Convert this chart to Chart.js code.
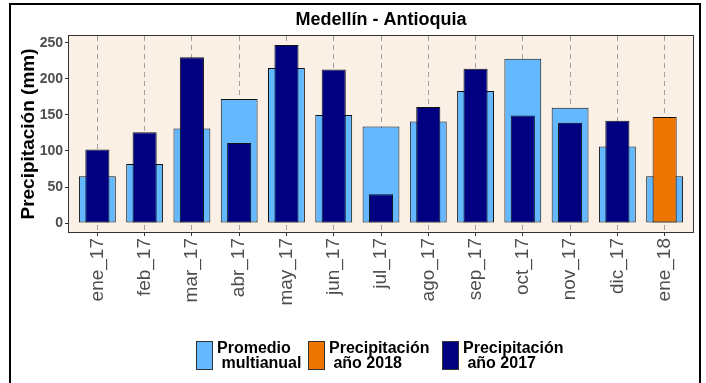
<!DOCTYPE html>
<html>
<head>
<meta charset="utf-8">
<script src="https://cdn.jsdelivr.net/npm/chart.js@4.4.1/dist/chart.umd.min.js"></script>
<style>
  html, body { margin: 0; padding: 0; background: #ffffff; }
  canvas { display: block; }
</style>
</head>
<body>
<canvas id="chart" width="706" height="383"></canvas>
<script>
// Monthly rainfall, Medellín (mm)
const months = ['ene_17', 'feb_17', 'mar_17', 'abr_17', 'may_17', 'jun_17', 'jul_17',
                'ago_17', 'sep_17', 'oct_17', 'nov_17', 'dic_17', 'ene_18'];
const promedioMultianual = [65, 82, 131, 172, 215, 150, 134, 141, 183, 228, 160, 106, 65];
const precipitacion2017 = [102, 126, 230, 111, 247, 213, 40, 161, 214, 149, 139, 142];
const precipitacion2018 = [147];
const yTicks = [0, 50, 100, 150, 200, 250];
const chartTitle = 'Medellín - Antioquia';
const yTitle = 'Precipitación (mm)';
const legendLabels = [
  ['Promedio', ' multianual'],
  ['Precipitación', ' año 2018'],
  ['Precipitación', ' año 2017']
];

const FONT = '"Liberation Sans", Arial, sans-serif';
const COLORS = { promedio: '#63B8FF', y2018: '#EE7600', y2017: '#000080' };

const toPoints = (values, start) => values.map((v, i) => ({ x: start + i, y: v }));

const barCommon = {
  borderColor: '#111111',
  borderWidth: 1,
  borderSkipped: false,
  grouped: false,
  categoryPercentage: 1
};

// Panel background, panel border, outer frame, titles and legend
const decorations = {
  id: 'decorations',
  beforeDraw(chart) {
    const { ctx, chartArea: a } = chart;
    ctx.save();
    ctx.fillStyle = '#FAF0E6';
    ctx.fillRect(a.left, a.top, a.right - a.left, a.bottom - a.top);
    ctx.restore();
  },
  afterDatasetsDraw(chart) {
    const { ctx, chartArea: a } = chart;
    ctx.save();
    ctx.strokeStyle = '#333333';
    ctx.lineWidth = 1;
    ctx.strokeRect(Math.round(a.left) - 0.5, Math.round(a.top) - 0.5,
                   Math.round(a.right - a.left) + 1, Math.round(a.bottom - a.top) + 1);
    ctx.restore();
  },
  afterDraw(chart) {
    const { ctx, chartArea: a } = chart;
    ctx.save();

    // outer frame
    ctx.strokeStyle = '#000000';
    ctx.lineWidth = 2;
    ctx.strokeRect(10, 4, 690, 420);

    // title
    ctx.fillStyle = '#000000';
    ctx.font = 'bold 18px ' + FONT;
    ctx.textAlign = 'center';
    ctx.textBaseline = 'middle';
    ctx.fillText(chartTitle, (a.left + a.right) / 2, 20);

    // y axis title
    ctx.save();
    ctx.translate(29, (a.top + a.bottom) / 2);
    ctx.rotate(-Math.PI / 2);
    ctx.font = 'bold 19px ' + FONT;
    ctx.fillText(yTitle, 0, 0);
    ctx.restore();

    // legend
    const keyX = [196, 308, 442];
    const keyY = 341, keyW = 17, keyH = 29;
    ctx.font = 'bold 16px ' + FONT;
    ctx.textAlign = 'left';
    ctx.textBaseline = 'alphabetic';
    chart.data.datasets.forEach((ds, i) => {
      ctx.fillStyle = ds.backgroundColor;
      ctx.fillRect(keyX[i], keyY, keyW, keyH);
      ctx.strokeStyle = '#333333';
      ctx.lineWidth = 1;
      ctx.strokeRect(keyX[i] + 0.5, keyY + 0.5, keyW - 1, keyH - 1);
      ctx.fillStyle = '#000000';
      legendLabels[i].forEach((line, j) => {
        ctx.fillText(line, keyX[i] + 21, 353 + j * 15);
      });
    });
    ctx.restore();
  }
};

new Chart(document.getElementById('chart'), {
  type: 'bar',
  data: {
    datasets: [
      Object.assign({}, barCommon, {
        label: 'Promedio multianual',
        data: toPoints(promedioMultianual, 0),
        backgroundColor: COLORS.promedio,
        barPercentage: 0.78,
        order: 3
      }),
      Object.assign({}, barCommon, {
        label: 'Precipitación año 2018',
        data: toPoints(precipitacion2018, precipitacion2017.length),
        backgroundColor: COLORS.y2018,
        barPercentage: 0.51,
        order: 1
      }),
      Object.assign({}, barCommon, {
        label: 'Precipitación año 2017',
        data: toPoints(precipitacion2017, 0),
        backgroundColor: COLORS.y2017,
        barPercentage: 0.51,
        order: 2
      })
    ]
  },
  options: {
    responsive: false,
    animation: false,
    events: [],
    layout: { padding: { left: 40, right: 13, top: 36, bottom: 0 } },
    plugins: {
      legend: { display: false },
      title: { display: false },
      tooltip: { enabled: false }
    },
    scales: {
      x: {
        type: 'linear',
        offset: false,
        min: -0.6,
        max: 12.6,
        afterBuildTicks: s => { s.ticks = months.map((m, i) => ({ value: i })); },
        afterFit: s => { s.height = 151; },
        ticks: {
          autoSkip: false,
          minRotation: 90,
          maxRotation: 90,
          padding: 2,
          color: '#4d4d4d',
          font: { family: FONT, size: 19 },
          callback: v => months[v]
        },
        grid: {
          offset: false,
          color: '#a0a0a0',
          lineWidth: 1,
          drawOnChartArea: true,
          drawTicks: true,
          tickLength: 4,
          tickColor: '#333333',
          tickBorderDash: []
        },
        border: { display: false, dash: [5, 4] }
      },
      y: {
        type: 'linear',
        min: -12.4,
        max: 259.4,
        afterBuildTicks: s => { s.ticks = yTicks.map(v => ({ value: v })); },
        afterFit: s => { s.width = 29; },
        ticks: {
          padding: 2,
          color: '#4d4d4d',
          font: { family: FONT, size: 14, weight: 'bold' }
        },
        grid: {
          drawOnChartArea: false,
          drawTicks: true,
          tickLength: 4,
          tickColor: '#333333'
        },
        border: { display: false }
      }
    }
  },
  plugins: [decorations]
});
</script>
</body>
</html>
